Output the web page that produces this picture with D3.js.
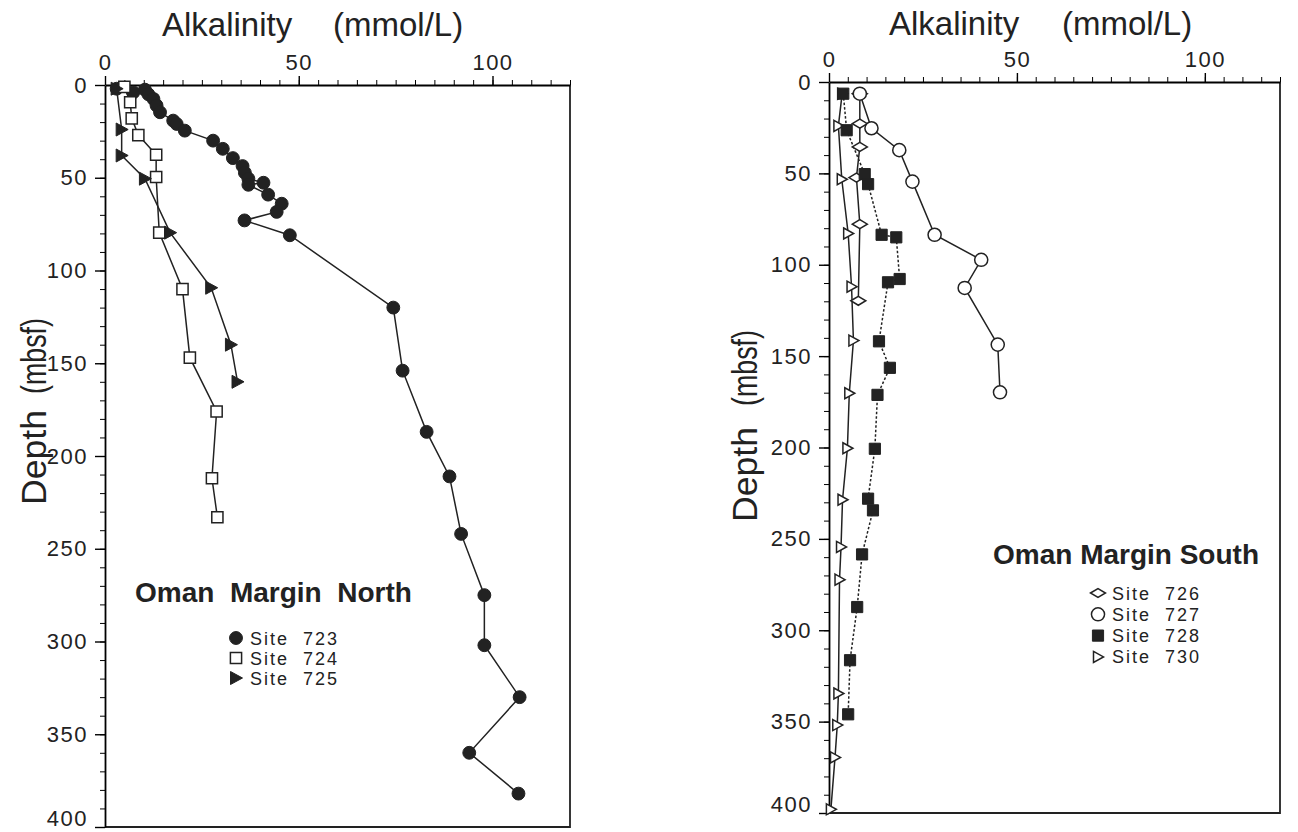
<!DOCTYPE html>
<html>
<head>
<meta charset="utf-8">
<script src="https://cdn.jsdelivr.net/npm/d3@7"></script>
<style>
  body { margin: 0; background: #fff; }
  svg { display: block; }
  text { font-family: "Liberation Sans", Arial, sans-serif; fill: #222; }
</style>
</head>
<body>
<svg id="chart" width="1298" height="832"></svg>
<script>
// values: [alkalinity (mmol/L), depth (mbsf)]
var site723 = [[3, 2], [7.3, 4], [10.3, 2.5], [11.2, 5], [12.5, 7.5], [13.3, 11], [14.2, 14.7],
    [17.6, 19.2], [18.5, 21], [20.6, 24.6], [27.9, 30], [30.4, 34.4], [33, 39.4], [35.5, 43.7],
    [36.1, 47.3], [37, 50.5], [40.9, 52.7], [37, 53.8], [42.1, 59.1], [45.6, 64], [44.3, 68.4],
    [36, 73], [47.7, 81], [74.4, 120], [76.8, 154], [83, 187], [88.9, 211], [91.9, 242],
    [97.9, 275], [97.9, 302], [107, 330], [94, 360], [106.7, 382]];
var site724 = [[5, 1], [6.5, 9.3], [6.9, 18], [8.6, 27], [13.2, 37.6], [13.2, 49.6], [14, 79.6],
    [20, 110], [21.9, 147], [28.8, 176], [27.6, 212], [29, 233]];
var site725 = [[3, 2], [4.3, 24], [4.3, 38], [10.3, 50.5], [16.8, 79.6], [27.4, 109.3],
    [32.5, 140], [34.2, 160]];

var site726 = [[8.2, 6.4], [8.2, 22.8], [8.2, 35.5], [7.3, 52.3], [8.2, 77.8], [7.8, 119.7]];
var site727 = [[8.2, 6.4], [11.3, 25.3], [18.7, 37.3], [22.2, 54.5], [28.1, 83.6], [40.5, 97.3],
    [36.1, 112.7], [44.9, 143.7], [45.5, 169.8]];
var site728 = [[3.8, 6.4], [4.7, 26.4], [9.5, 50.4], [10.4, 55.9], [14, 83.6], [17.9, 85],
    [18.8, 107.8], [15.7, 109.6], [13.3, 141.9], [16.2, 156.4], [12.9, 171.2], [12.2, 200.7],
    [10.4, 228], [11.7, 234.4], [8.8, 258.5], [7.5, 287.3], [5.6, 316.4], [5.1, 346]];
var site730 = [[3.5, 6.4], [2.5, 24], [3.4, 53.2], [5.1, 82.9], [6, 112], [6.5, 141.5],
    [5.4, 170.3], [4.9, 200.4], [3.6, 228.6], [3.2, 254.4], [2.8, 272.3], [2.5, 334.6],
    [2.2, 351.9], [1.6, 369.6], [0.5, 398]];

var alkTicks = [0, 50, 100];
var depthTicks = [0, 50, 100, 150, 200, 250, 300, 350, 400];
var northSites = ["Site  723", "Site  724", "Site  725"];
var southSites = ["Site  726", "Site  727", "Site  728", "Site  730"];

var ink = "#222";
var svg = d3.select("#chart");

// marker paths, centred on 0,0
var shapes = {
    circle: d3.symbol().type(d3.symbolCircle).size(130)(),
    square: d3.symbol().type(d3.symbolSquare).size(125)(),
    triRight: "M-5.5,-6.5L6.5,0L-5.5,6.5Z",
    triOpen: "M-4.5,-5.5L5.5,0L-4.5,5.5Z",
    diamond: "M-7.5,0L0,-4.5L7.5,0L0,4.5Z",
    ring: d3.symbol().type(d3.symbolCircle).size(135)()
};

function styleLabels(a) {
    a.select(".domain").remove();
    a.selectAll("line").attr("stroke-width", 1.4);
    a.selectAll("text").style("font-size", "22px").style("letter-spacing", "1.5px").attr("fill", "#333");
}

function drawPanel(p) {
    var x = d3.scaleLinear().domain([0, 120]).range([p.left, p.right]);
    var y = d3.scaleLinear().domain([0, 400]).range([p.top, p.bottom]);
    var g = svg.append("g");

    // frame: right and bottom edges
    g.append("path")
        .attr("d", "M" + p.right + "," + p.top + "V" + p.bottom + "H" + p.left)
        .attr("fill", "none").attr("stroke", ink).attr("stroke-width", 1.8);

    // top axis, minor then major
    g.append("g").attr("transform", "translate(0," + p.top + ")")
        .call(d3.axisTop(x).tickValues(d3.range(0, 121, 5)).tickSize(5).tickSizeOuter(0).tickFormat(""))
        .call(function (a) { a.select(".domain").attr("stroke-width", 1.8); });
    g.append("g").attr("transform", "translate(0," + p.top + ")")
        .call(d3.axisTop(x).tickValues(alkTicks).tickSize(9).tickSizeOuter(0).tickPadding(6))
        .call(styleLabels);

    // left axis
    g.append("g").attr("transform", "translate(" + p.left + ",0)")
        .call(d3.axisLeft(y).tickValues(d3.range(0, 401, 10)).tickSize(5).tickSizeOuter(0).tickFormat(""))
        .call(function (a) { a.select(".domain").attr("stroke-width", 1.8); });
    g.append("g").attr("transform", "translate(" + p.left + ",0)")
        .call(d3.axisLeft(y).tickValues(depthTicks).tickSize(10).tickSizeOuter(0).tickPadding(7))
        .call(styleLabels)
        .call(function (a) {
            // the lowest label sits on the picture's edge
            a.selectAll("text").filter(function (d) { return d === 400; }).attr("dy", "-0.05em");
        });

    // axis titles
    g.append("text").attr("x", p.titleX[0]).attr("y", p.titleY)
        .style("font-size", "33px").text("Alkalinity");
    g.append("text").attr("x", p.titleX[1]).attr("y", p.titleY)
        .style("font-size", "33px").text("(mmol/L)");
    g.append("text").attr("transform", "translate(" + p.depthX + "," + p.depthY[0] + ") rotate(-90)")
        .attr("textLength", 95).attr("lengthAdjust", "spacingAndGlyphs")
        .style("font-size", "35px").text("Depth");
    g.append("text").attr("transform", "translate(" + p.depthX + "," + p.depthY[1] + ") rotate(-90)")
        .attr("text-anchor", "end").attr("textLength", 76).attr("lengthAdjust", "spacingAndGlyphs")
        .style("font-size", "35px").text("(mbsf)");

    var line = d3.line().x(function (d) { return x(d[0]); }).y(function (d) { return y(d[1]); });

    p.series.forEach(function (s) {
        g.append("path").datum(s.data)
            .attr("d", line)
            .attr("fill", "none").attr("stroke", ink).attr("stroke-width", 1.5)
            .attr("stroke-dasharray", s.dash ? "2.5,2" : null);
    });
    p.series.slice().sort(function (a, b) { return a.z - b.z; }).forEach(function (s) {
        g.append("g").selectAll("path").data(s.data).enter().append("path")
            .attr("transform", function (d) { return "translate(" + x(d[0]) + "," + y(d[1]) + ")"; })
            .attr("d", shapes[s.shape])
            .attr("fill", s.filled ? ink : "#fff")
            .attr("stroke", ink).attr("stroke-width", s.filled ? 1 : 1.5);
    });

    // legend
    g.append("text").attr("x", p.legend.x).attr("y", p.legend.y)
        .style("font-size", "28px").style("font-weight", "bold").style("white-space", "pre")
        .text(p.legend.title);
    var rows = g.append("g").selectAll("g").data(p.series).enter().append("g")
        .attr("transform", function (d, i) {
            return "translate(" + p.legend.markX + "," + (p.legend.rowY + i * p.legend.step) + ")";
        });
    rows.append("path")
        .attr("d", function (d) { return shapes[d.shape]; })
        .attr("fill", function (d) { return d.filled ? ink : "#fff"; })
        .attr("stroke", ink).attr("stroke-width", function (d) { return d.filled ? 1 : 1.5; });
    rows.append("text").attr("x", 14).attr("y", 6.5)
        .style("font-size", "18px").style("letter-spacing", "2px").style("white-space", "pre")
        .text(function (d, i) { return p.labels[i]; });
}

drawPanel({
    left: 105, right: 570, top: 85, bottom: 827,
    titleX: [162, 333], titleY: 36,
    depthX: 46, depthY: [505, 318],
    series: [
        {data: site723, shape: "circle", filled: true, z: 1},
        {data: site724, shape: "square", filled: false, z: 2},
        {data: site725, shape: "triRight", filled: true, z: 3}
    ],
    labels: northSites,
    legend: {title: "Oman  Margin  North", x: 135, y: 602, markX: 236, rowY: 638, step: 20}
});

drawPanel({
    left: 829, right: 1280, top: 82, bottom: 813,
    titleX: [889, 1062], titleY: 35,
    depthX: 757, depthY: [522, 330],
    series: [
        {data: site726, shape: "diamond", filled: false, z: 2},
        {data: site727, shape: "ring", filled: false, z: 3},
        {data: site728, shape: "square", filled: true, dash: true, z: 4},
        {data: site730, shape: "triOpen", filled: false, z: 1}
    ],
    labels: southSites,
    legend: {title: "Oman Margin South", x: 993, y: 564, markX: 1098, rowY: 593, step: 21.3}
});
</script>
</body>
</html>
